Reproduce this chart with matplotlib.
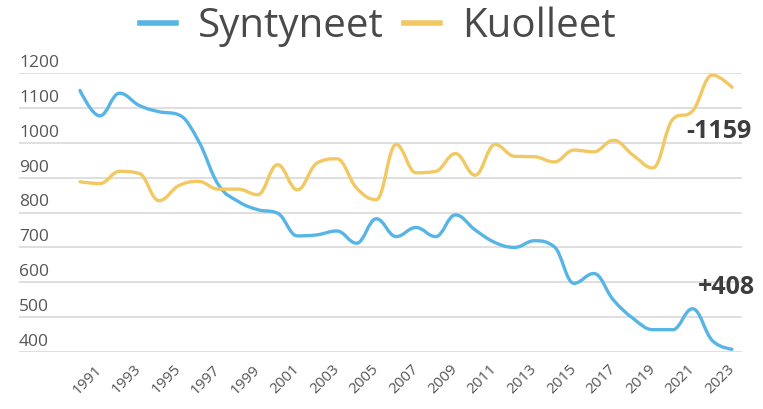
import numpy as np
import matplotlib.pyplot as plt
from matplotlib.path import Path
from matplotlib.patches import PathPatch
import matplotlib.transforms as mtransforms

years = list(range(1990, 2024))
syntyneet = [1150, 1077, 1142, 1107, 1089, 1080, 1005, 880, 832, 808,
             798, 733, 736, 747, 712, 782, 731, 757, 731, 793,
             750, 714, 700, 719, 702, 597, 625, 549, 496, 464,
             464, 524, 433, 408]
kuolleet = [888, 883, 918, 912, 834, 877, 889, 867, 867, 851,
            937, 865, 942, 954, 870, 837, 995, 914, 918, 969,
            907, 995, 961, 960, 945, 979, 974, 1007, 964, 928,
            1067, 1091, 1194, 1159]
year_ticks = list(range(1991, 2024, 2))
y_ticks = [400, 500, 600, 700, 800, 900, 1000, 1100, 1200]

BLUE = '#57b5e5'
YELLOW = '#f1c862'
TEXT = '#4a4a4a'

plt.rcParams['font.family'] = ['Open Sans', 'DejaVu Sans']


def spline_path(x, y, smooth=0.4):
    """Highcharts-like spline: bezier control points from neighbour slopes."""
    x = np.asarray(x, float)
    y = np.asarray(y, float)
    n = len(x)
    left = [(x[0], y[0])]
    right = []
    for i in range(n):
        if i == 0 or i == n - 1:
            right.append((x[i], y[i]))
            if i == n - 1:
                left.append((x[i], y[i]))
            continue
        lx = x[i] - smooth * (x[i] - x[i - 1])
        rx = x[i] + smooth * (x[i + 1] - x[i])
        ly = y[i] - smooth * (y[i] - y[i - 1])
        ry = y[i] + smooth * (y[i + 1] - y[i])
        corr = (ry - ly) * (rx - x[i]) / (rx - lx) + y[i] - ry
        ly += corr
        ry += corr
        if ly > y[i - 1] and ly > y[i]:
            ly = max(y[i - 1], y[i])
            ry = 2 * y[i] - ly
        elif ly < y[i - 1] and ly < y[i]:
            ly = min(y[i - 1], y[i])
            ry = 2 * y[i] - ly
        if ry > y[i + 1] and ry > y[i]:
            ry = max(y[i + 1], y[i])
            ly = 2 * y[i] - ry
        elif ry < y[i + 1] and ry < y[i]:
            ry = min(y[i + 1], y[i])
            ly = 2 * y[i] - ry
        left.append((lx, ly))
        right.append((rx, ry))
    verts = [(x[0], y[0])]
    codes = [Path.MOVETO]
    for i in range(n - 1):
        verts += [right[i], left[i + 1], (x[i + 1], y[i + 1])]
        codes += [Path.CURVE4] * 3
    return Path(verts, codes)


fig = plt.figure(figsize=(7.63, 4.09), dpi=100)
ax = fig.add_axes([19 / 763, 57 / 409, 723 / 763, 279 / 409])

ax.set_xlim(1990 - 61 / 19.76, 2023 + 10 / 19.76)
ax.set_ylim(400, 1200)

for v in y_ticks:
    ax.axhline(v, color='#dcdcdc', lw=1.3, zorder=1)

for vals, col in [(syntyneet, BLUE), (kuolleet, YELLOW)]:
    ax.add_patch(PathPatch(spline_path(years, vals), facecolor='none',
                           edgecolor=col, lw=2.4, capstyle='round',
                           joinstyle='round', zorder=3, clip_on=False))

# y labels sit above the grid lines at the left edge
trans = mtransforms.blended_transform_factory(ax.transAxes, ax.transData)
trans = mtransforms.offset_copy(trans, fig=fig, y=6, units='dots')
for v in y_ticks:
    ax.text(0, v, str(v), transform=trans, ha='left', va='baseline',
            fontsize=12.5, color='#555555')

ax.set_xticks(year_ticks)
ax.set_xticklabels([str(t) for t in year_ticks], rotation=45, ha='right',
                   va='center', rotation_mode='anchor', fontsize=11,
                   color='#555555')
ax.tick_params(axis='x', length=0, pad=11)
ax.set_yticks([])
for s in ax.spines.values():
    s.set_visible(False)

ax.annotate('-1159', (years[-1], kuolleet[-1]), xytext=(-13, -44),
            textcoords='offset pixels', ha='center', va='center',
            fontsize=18, fontweight='bold', color='#3d3d3d')
ax.annotate('+408', (years[-1], syntyneet[-1]), xytext=(-6, 62),
            textcoords='offset pixels', ha='center', va='center',
            fontsize=18, fontweight='bold', color='#3d3d3d')

ax.plot([], [], color=BLUE, lw=4, label='Syntyneet')
ax.plot([], [], color=YELLOW, lw=4, label='Kuolleet')
fig.legend(loc='center', bbox_to_anchor=(378 / 763, 1 - 27 / 409),
           ncol=2, frameon=False, fontsize=29, labelcolor=TEXT,
           handlelength=0.9, handletextpad=0.55, columnspacing=0.5)

fig.savefig('out.png', dpi=100)
